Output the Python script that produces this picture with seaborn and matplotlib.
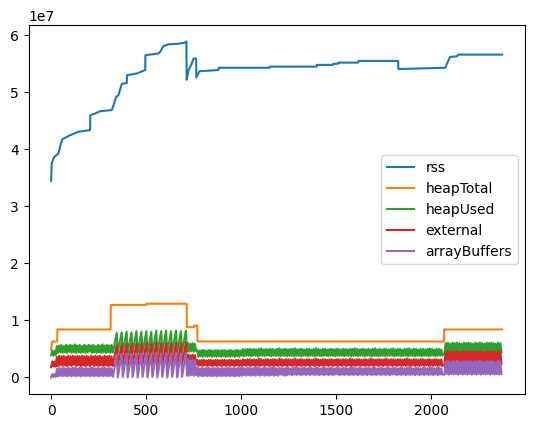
import numpy as np
import pandas as pd
import matplotlib
matplotlib.use("Agg")
import matplotlib.pyplot as plt
import seaborn as sns

# memory samples
series_names = ["rss", "heapTotal", "heapUsed", "external", "arrayBuffers"]
colors = ["#1f77b4", "#ff7f0e", "#2ca02c", "#d62728", "#9467bd"]


def mb(s):
    # values typed in units of 0.1 MB
    return [int(v) / 10 for v in s.split()]


# rss (MB): step-like curve
rss_t = [0, 3, 16, 39, 47, 59, 100, 144, 205, 206, 232, 258, 319, 325, 342, 354,
         372, 398, 399, 451, 495, 496, 565, 574, 591, 618, 670, 705, 712, 713,
         723, 740, 749, 763, 764, 781, 881, 882, 1150, 1151, 1397, 1398, 1484,
         1485, 1511, 1512, 1616, 1617, 1826, 1827, 1853, 2074, 2091, 2100, 2135,
         2143, 2373]
rss_mb = [34.4, 37.5, 38.6, 39.2, 40.4, 41.7, 42.4, 43.0, 43.3, 45.9, 46.2, 46.6,
          46.8, 47.3, 49.1, 49.4, 51.4, 51.5, 52.9, 53.2, 53.8, 56.4, 56.7, 57.0,
          58.0, 58.3, 58.4, 58.6, 58.8, 52.1, 53.8, 54.9, 55.8, 55.8, 52.5, 53.6,
          53.8, 54.2, 54.2, 54.4, 54.4, 54.7, 54.7, 54.9, 54.9, 55.1, 55.1, 55.4,
          55.4, 54.0, 54.0, 54.2, 55.5, 56.1, 56.2, 56.5, 56.5]

# heapTotal (MB): flat steps
heap_total_t = [0, 5, 32, 33, 313, 314, 500, 501, 713, 714, 752, 753, 769, 770,
                2067, 2068, 2373]
heap_total_mb = [4.8, 6.3, 6.3, 8.4, 8.4, 12.7, 12.7, 12.9, 12.9, 8.8, 8.8, 9.1,
                 9.1, 6.3, 6.3, 8.4, 8.4]

# sample index of the fast-oscillating series
tooth_t = [325, 345, 351, 371, 377, 397, 403, 423, 429, 449, 455, 475, 481, 501,
           507, 527, 533, 553, 559, 579, 585, 605, 611, 631, 637, 657, 663, 683,
           689, 709]
osc_t = np.concatenate([np.arange(0, 325, 6), tooth_t,
                        np.arange(715, 2060, 6), np.arange(2070, 2371, 6)])

heap_used_mb = mb("""
39 47 38 47 39 55 43 56 44 57 43 55 44 57 43 56 45 57 43 56
44 58 43 56 44 57 43 55 44 57 43 56 44 57 45 56 43 57 44 55
43 57 44 56 43 58 44 56 43 57 44 56 43 57 44
44 78 43 79 44 80 43 79 44 81 43 80 44 81 43 80 44 82 43 81
44 82 43 81 44 82 43 81 44 82
46 60 45 59 46 60 45 59 46
48 36 47 37 48 36 48 37 47 36 48 37 48 36 47 37 48 36 48 37
47 36 48 37 48 36 47 37 48 36 48 37 47 36 48 37 48 36 47
38 50 37 49 38 50 38 50 37 49 38 50 38 49 37 50 38 51 38 49
37 50 38 49 38 50 37 50 38 49 38 50 38 51 37 49 38 50 38 50
37 49 38 50 38 50 37 51 38 49 38 50 37 50 38 49 38 50 37 50
38 49 38 50 37 51 38 50 38 49 37 50 38 50 38 49 37 50 38 50
38 49 37 50 38 50 38 49 38 50 37 50 38 49 38 50 37 50 38 51
38 50 37 49 38 50 38 50 37 49 38 50 38 49 37 50 38 51 38 49
37 50 38 49 38 50 37 50 38 49 38 50 38 51 37 49 38 50 38 50
37 49 38 50 38 50 37 51 38 49 38 50 37 50 38 49 38 50 37 50
38 49 38 50 37 51 38 50 38 49 37 50 38 50 38 49 38
43 60 44 61 43 59 44 61 43 60 44 61 43 60 44 59 43 61 44 60
43 61 44 60 43 59 44 61 43 60 44 61 43 60 44 59 43 61 44 60
43 61 44 60 43 59 44 61 43 60 44
""")

external_mb = mb("""
18 28 19 28 19 36 20 38 21 37 20 38 21 36 20 38 21 37 20 38
22 37 20 38 21 37 20 38 21 37 20 38 21 36 20 38 22 37 20 38
21 37 20 38 21 36 20 38 21 37 20 38 21 37 20
22 58 21 59 22 60 21 59 22 60 21 60 22 61 21 60 22 61 21 60
22 61 21 60 22 61 21 60 22 61
22 40 21 39 23 40 22 39 23
31 20 30 21 31 20 31 21 30 20 31 21 31 20 30 21 31 20 31 21
30 20 31 21 31 20 30 21 31 20 31 21 30 20 31 21 31 20 30
20 32 21 31 20 32 21 32 20 31 21 32 20 31 21 33 20 32 21 31
20 32 21 32 20 31 21 32 20 32 21 31 20 33 21 32 20 31 21 32
20 32 21 31 20 32 21 33 20 31 21 32 20 32 21 31 20 32 21 32
20 31 21 32 20 33 21 32 20 31 21 32 20 32 21 31 20 32 21 32
20 31 21 32 20 32 21 31 20 32 21 32 20 31 21 33 20 32 21 31
20 32 21 32 20 31 21 32 20 32 21 31 20 33 21 32 20 31 21 32
20 32 21 31 20 32 21 33 20 31 21 32 20 32 21 31 20 32 21 32
20 31 21 32 20 33 21 32 20 31 21 32 20 32 21 31 20 32 21 32
20 31 21 32 20 32 21 31 20 32 21 32 20 31 21 32 20
23 45 24 46 23 44 24 46 23 45 24 46 23 45 24 44 23 46 24 45
23 46 24 45 23 44 24 46 23 45 24 46 23 45 24 44 23 46 24 45
23 46 24 45 23 44 24 46 23 45 24
""")

array_buffers_mb = mb("""
0 6 1 6 1 15 2 17 3 16 2 17 3 16 2 17 3 16 2 17
3 17 2 16 3 17 2 17 3 16 2 17 3 16 2 17 3 17 2 16
3 17 2 16 3 17 2 17 3 16 2 17 3 16 2
1 40 0 41 1 42 0 41 1 42 0 42 1 43 0 42 1 43 0 42
1 43 0 42 1 43 0 42 1 43
3 32 3 30 4 31 3 30 4
17 2 16 3 17 2 16 3 17 2 17 3 16 2 17 3 16 2 17 3
16 2 17 3 16 2 17 3 17 2 16 3 17 2 16 3 17 2 17
3 17 4 16 3 17 4 17 3 16 4 17 3 18 4 17 3 16 4 17
3 17 4 16 3 17 4 18 3 17 4 16 3 17 5 17 4 16 3 17
4 17 5 16 4 17 5 18 4 17 5 16 4 17 5 17 4 16 5 17
4 17 5 16 4 18 5 17 4 16 5 17 4 17 5 16 4 17 5 17
4 16 5 17 5 17 4 16 5 17 4 17 5 16 4 17 5 18 4 17
5 16 4 17 5 17 4 16 5 17 4 17 5 16 4 18 5 17 4 16
5 17 4 17 5 16 4 17 5 17 4 16 5 17 5 17 4 16 5 17
4 17 5 16 4 17 5 18 4 17 5 16 4 17 5 17 4 16 5 17
4 17 5 16 4 18 5 17 4 16 5 17 4 17 5 16 5
5 28 6 29 5 27 6 29 5 28 6 29 5 28 6 27 5 29 6 28
5 29 6 28 5 27 6 29 5 28 6 29 5 28 6 27 5 29 6 28
5 29 6 28 5 27 6 29 5 28 6
""")

# long-form table in bytes
parts = [
    ("rss", rss_t, rss_mb),
    ("heapTotal", heap_total_t, heap_total_mb),
    ("heapUsed", osc_t, heap_used_mb),
    ("external", osc_t, external_mb),
    ("arrayBuffers", osc_t, array_buffers_mb),
]
frames = []
for name, t, vals in parts:
    frames.append(pd.DataFrame({"t": np.asarray(t),
                                "bytes": np.asarray(vals) * 1e6,
                                "series": name}))
df = pd.concat(frames, ignore_index=True)

fig, ax = plt.subplots(figsize=(6.4, 4.8), dpi=100)
sns.lineplot(data=df, x="t", y="bytes", hue="series", hue_order=series_names,
             palette=dict(zip(series_names, colors)), estimator=None,
             sort=False, linewidth=1.5, ax=ax)
ax.set_xlabel("")
ax.set_ylabel("")
sns.move_legend(ax, "center right", title=None)

plt.savefig("out.png", dpi=100, bbox_inches="tight")
